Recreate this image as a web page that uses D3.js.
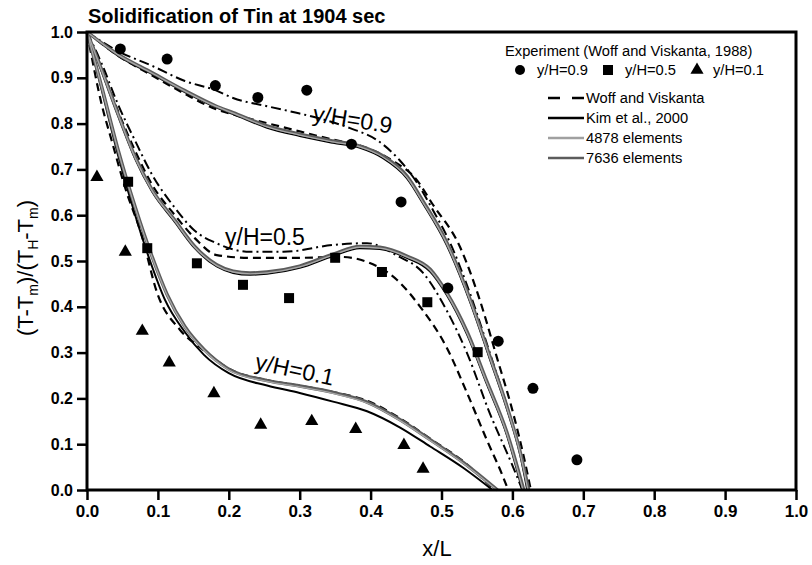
<!DOCTYPE html>
<html>
<head>
<meta charset="utf-8">
<title>Solidification of Tin at 1904 sec</title>
<style>
  body { margin: 0; background: #fff; }
  svg text { font-family: "Liberation Sans", Arial, sans-serif; fill: #000; }
  .narrow { font-family: "Liberation Sans Narrow", "Liberation Sans", Arial, sans-serif; }
</style>
</head>
<body>
<div id="chart"></div>
<script src="https://d3js.org/d3.v7.min.js"></script>
<script>
// ---- data ----
var xTicks = [0, 0.1, 0.2, 0.3, 0.4, 0.5, 0.6, 0.7, 0.8, 0.9, 1.0];
var yTicks = [0, 0.1, 0.2, 0.3, 0.4, 0.5, 0.6, 0.7, 0.8, 0.9, 1.0];

// experiment, Woff and Viskanta 1988
var exp09 = [[0.047,0.963],[0.113,0.941],[0.181,0.883],[0.241,0.857],[0.31,0.873],[0.373,0.755],
             [0.443,0.629],[0.509,0.441],[0.58,0.325],[0.629,0.222],[0.691,0.066]];
var exp05 = [[0.058,0.673],[0.085,0.528],[0.155,0.495],[0.22,0.448],[0.285,0.419],[0.35,0.507],
             [0.416,0.476],[0.48,0.41],[0.551,0.301]];
var exp01 = [[0.014,0.683],[0.054,0.52],[0.078,0.347],[0.116,0.278],[0.179,0.211],[0.245,0.142],
             [0.317,0.15],[0.379,0.133],[0.447,0.098],[0.474,0.046]];

// Woff and Viskanta (dashed)
var woff09 = [[0,1],[0.044,0.948],[0.092,0.905],[0.138,0.865],[0.181,0.832],[0.211,0.818],[0.254,0.801],
              [0.30,0.783],[0.347,0.765],[0.385,0.752],[0.43,0.72],[0.465,0.677],[0.487,0.625],[0.526,0.531],
              [0.554,0.415],[0.578,0.29],[0.601,0.168],[0.615,0.08],[0.626,0]];
var woff05 = [[0,1],[0.021,0.92],[0.044,0.826],[0.068,0.74],[0.092,0.666],[0.124,0.6],[0.152,0.55],
              [0.183,0.513],[0.23,0.507],[0.30,0.507],[0.357,0.509],[0.395,0.498],[0.437,0.459],[0.47,0.4],
              [0.507,0.312],[0.536,0.212],[0.564,0.109],[0.587,0.028],[0.594,0]];
var woff01 = [[0,1],[0.021,0.84],[0.035,0.762],[0.054,0.659],[0.077,0.557],[0.099,0.43],[0.131,0.35],
              [0.165,0.305],[0.2,0.265],[0.254,0.24],[0.30,0.228],[0.347,0.214],[0.395,0.195],[0.441,0.157],
              [0.484,0.112],[0.531,0.062],[0.575,0]];

// dash-dot curves (no legend entry in the figure)
var dd09 = [[0,1],[0.044,0.958],[0.092,0.926],[0.138,0.893],[0.181,0.873],[0.206,0.856],[0.254,0.838],
            [0.30,0.822],[0.34,0.806],[0.371,0.79],[0.409,0.764],[0.441,0.72],[0.465,0.672],[0.488,0.611],
            [0.512,0.54],[0.54,0.43],[0.568,0.30],[0.592,0.185],[0.611,0.085],[0.623,0]];
var dd05 = [[0,1],[0.021,0.93],[0.044,0.841],[0.068,0.762],[0.092,0.688],[0.124,0.616],[0.152,0.566],
            [0.181,0.54],[0.23,0.52],[0.277,0.52],[0.347,0.535],[0.395,0.539],[0.437,0.512],[0.474,0.474],
            [0.507,0.393],[0.536,0.299],[0.568,0.168],[0.601,0.05],[0.614,0]];

// Kim et al., 2000
var kim09 = [[0,1],[0.044,0.948],[0.092,0.908],[0.138,0.869],[0.181,0.836],[0.206,0.821],[0.254,0.791],
             [0.30,0.773],[0.347,0.758],[0.385,0.747],[0.417,0.725],[0.451,0.681],[0.475,0.623],[0.507,0.536],
             [0.54,0.412],[0.568,0.287],[0.592,0.178],[0.611,0.077],[0.621,0]];
var kim05 = [[0,1],[0.021,0.913],[0.044,0.817],[0.068,0.723],[0.092,0.651],[0.124,0.585],[0.152,0.528],
             [0.183,0.488],[0.206,0.474],[0.23,0.47],[0.254,0.472],[0.30,0.485],[0.347,0.511],[0.385,0.528],
             [0.413,0.526],[0.451,0.507],[0.484,0.477],[0.507,0.427],[0.536,0.34],[0.564,0.231],[0.592,0.121],[0.614,0]];
var kim01 = [[0,1],[0.021,0.872],[0.044,0.73],[0.068,0.6],[0.089,0.5],[0.11,0.415],[0.138,0.345],
             [0.165,0.295],[0.2,0.255],[0.254,0.228],[0.30,0.212],[0.347,0.193],[0.395,0.172],[0.441,0.137],
             [0.484,0.095],[0.531,0.048],[0.572,0]];

// 4878 elements
var m4878_09 = [[0,1],[0.044,0.95],[0.092,0.91],[0.138,0.871],[0.181,0.838],[0.206,0.823],[0.254,0.793],
                [0.30,0.775],[0.347,0.76],[0.385,0.749],[0.417,0.727],[0.451,0.683],[0.475,0.625],[0.507,0.539],
                [0.54,0.415],[0.568,0.29],[0.592,0.181],[0.611,0.08],[0.622,0]];
var m4878_05 = [[0,1],[0.021,0.915],[0.044,0.819],[0.068,0.725],[0.092,0.653],[0.124,0.587],[0.152,0.53],
                [0.183,0.49],[0.206,0.476],[0.23,0.472],[0.254,0.474],[0.30,0.487],[0.347,0.513],[0.385,0.53],
                [0.413,0.528],[0.451,0.509],[0.484,0.48],[0.507,0.43],[0.536,0.343],[0.564,0.234],[0.592,0.124],[0.615,0]];
var m4878_01 = [[0,1],[0.021,0.878],[0.044,0.74],[0.068,0.616],[0.092,0.507],[0.113,0.425],[0.138,0.355],
                [0.165,0.305],[0.2,0.262],[0.254,0.237],[0.30,0.225],[0.347,0.211],[0.395,0.19],[0.441,0.152],
                [0.484,0.108],[0.531,0.058],[0.578,0]];

// 7636 elements
var m7636_09 = [[0,1],[0.044,0.951],[0.092,0.911],[0.138,0.872],[0.181,0.839],[0.206,0.824],[0.254,0.795],
                [0.30,0.777],[0.347,0.762],[0.385,0.751],[0.417,0.73],[0.451,0.686],[0.475,0.628],[0.507,0.542],
                [0.54,0.418],[0.568,0.293],[0.592,0.184],[0.611,0.083],[0.623,0]];
var m7636_05 = [[0,1],[0.021,0.916],[0.044,0.82],[0.068,0.727],[0.092,0.655],[0.124,0.589],[0.152,0.532],
                [0.183,0.492],[0.206,0.478],[0.23,0.474],[0.254,0.476],[0.30,0.489],[0.347,0.515],[0.385,0.532],
                [0.413,0.53],[0.451,0.511],[0.484,0.482],[0.507,0.432],[0.536,0.346],[0.564,0.237],[0.592,0.127],[0.616,0]];
var m7636_01 = [[0,1],[0.021,0.879],[0.044,0.742],[0.068,0.618],[0.092,0.509],[0.113,0.427],[0.138,0.357],
                [0.165,0.307],[0.2,0.264],[0.254,0.239],[0.30,0.227],[0.347,0.213],[0.395,0.192],[0.441,0.154],
                [0.484,0.11],[0.531,0.06],[0.579,0]];

// ---- drawing ----
var w = 812, h = 565;
var x0 = 87, x1 = 796, yTop = 32, yBot = 490;

var svg = d3.select("#chart").append("svg")
  .attr("width", w).attr("height", h);

var x = d3.scaleLinear().domain([0, 1]).range([x0, x1]);
var y = d3.scaleLinear().domain([0, 1]).range([yBot, yTop]);

var line = d3.line()
  .x(function(d){ return x(d[0]); })
  .y(function(d){ return y(d[1]); })
  .curve(d3.curveMonotoneX);

function drawCurve(data, stroke, width, dash){
  svg.append("path")
    .datum(data)
    .attr("d", line)
    .attr("fill", "none")
    .attr("stroke", stroke)
    .attr("stroke-width", width)
    .attr("stroke-dasharray", dash || null)
    .attr("stroke-linejoin", "round");
}

var dashWoff = "8,5", dashDot = "10,4,2,4";

[woff09, woff05, woff01].forEach(function(c){ drawCurve(c, "#000", 2.2, dashWoff); });
[dd09, dd05].forEach(function(c){ drawCurve(c, "#000", 2, dashDot); });
[kim09, kim05, kim01].forEach(function(c){ drawCurve(c, "#000", 2); });
[m7636_09, m7636_05, m7636_01].forEach(function(c){ drawCurve(c, "#5c5c5c", 3.4); });
[m4878_09, m4878_05, m4878_01].forEach(function(c){ drawCurve(c, "#a8a8a8", 1.3); });

// markers
svg.append("g").selectAll("circle").data(exp09).join("circle")
  .attr("cx", function(d){ return x(d[0]); })
  .attr("cy", function(d){ return y(d[1]); })
  .attr("r", 5.5).attr("fill", "#000");

svg.append("g").selectAll("rect").data(exp05).join("rect")
  .attr("x", function(d){ return x(d[0]) - 5; })
  .attr("y", function(d){ return y(d[1]) - 5; })
  .attr("width", 10).attr("height", 10).attr("fill", "#000");

var tri = d3.symbol().type(d3.symbolTriangle).size(75);
svg.append("g").selectAll("path").data(exp01).join("path")
  .attr("d", tri)
  .attr("transform", function(d){ return "translate(" + x(d[0]) + "," + y(d[1]) + ")"; })
  .attr("fill", "#000");

// curve labels
svg.append("text").attr("transform", "translate(312,121) rotate(9)")
  .attr("font-size", 23).text("y/H=0.9");
svg.append("text").attr("x", 225).attr("y", 245)
  .attr("font-size", 23).text("y/H=0.5");
svg.append("text").attr("transform", "translate(254,369) rotate(12)")
  .attr("font-size", 23).text("y/H=0.1");

// axes
var xAxis = d3.axisBottom(x).tickValues(xTicks).tickSize(10).tickPadding(5)
  .tickFormat(d3.format(".1f"));
var gx = svg.append("g").attr("transform", "translate(0," + yBot + ")").call(xAxis);
gx.selectAll("line").attr("stroke-width", 2.5);
gx.select(".domain").remove();
gx.selectAll("text").attr("class", "narrow")
  .attr("font-size", 17).attr("font-weight", "bold");

var yAxis = d3.axisLeft(y).tickValues(yTicks).tickSize(10).tickPadding(4)
  .tickFormat(d3.format(".1f"));
var gy = svg.append("g").attr("transform", "translate(" + x0 + ",0)").call(yAxis);
gy.selectAll("line").attr("stroke-width", 2.5);
gy.select(".domain").remove();
gy.selectAll("text").attr("font-size", 16).attr("font-weight", "bold");

// frame
svg.append("rect")
  .attr("x", x0).attr("y", yTop)
  .attr("width", x1 - x0).attr("height", yBot - yTop)
  .attr("fill", "none").attr("stroke", "#000").attr("stroke-width", 3);

// title and axis titles
svg.append("text").attr("x", 88).attr("y", 23)
  .attr("font-size", 20).attr("font-weight", "bold")
  .text("Solidification of Tin at 1904 sec");

svg.append("text").attr("class", "narrow")
  .attr("x", 437).attr("y", 556).attr("text-anchor", "middle")
  .attr("font-size", 22).text("x/L");

var yl = svg.append("text")
  .attr("transform", "translate(33,268) rotate(-90)")
  .attr("text-anchor", "middle").attr("font-size", 22);
yl.append("tspan").text("(T-T");
yl.append("tspan").attr("font-size", 14).attr("dy", 5).text("m");
yl.append("tspan").attr("dy", -5).text(")/(T");
yl.append("tspan").attr("font-size", 14).attr("dy", 5).text("H");
yl.append("tspan").attr("dy", -5).text("-T");
yl.append("tspan").attr("font-size", 14).attr("dy", 5).text("m");
yl.append("tspan").attr("dy", -5).text(")");

// legend
var lg = svg.append("g");
var fs = 14.7;
lg.append("text").attr("x", 505).attr("y", 56).attr("font-size", fs)
  .text("Experiment (Woff and Viskanta, 1988)");
lg.append("circle").attr("cx", 520).attr("cy", 70).attr("r", 5).attr("fill", "#000");
lg.append("text").attr("x", 537).attr("y", 75).attr("font-size", fs).text("y/H=0.9");
lg.append("rect").attr("x", 603).attr("y", 65).attr("width", 10).attr("height", 10).attr("fill", "#000");
lg.append("text").attr("x", 625).attr("y", 75).attr("font-size", fs).text("y/H=0.5");
lg.append("path").attr("d", tri).attr("transform", "translate(697,70)").attr("fill", "#000");
lg.append("text").attr("x", 713).attr("y", 75).attr("font-size", fs).text("y/H=0.1");

var legendLines = [
  { label: "Woff and Viskanta", stroke: "#000", width: 2.5, dash: "12,12" },
  { label: "Kim et al., 2000", stroke: "#000", width: 2.5, dash: null },
  { label: "4878 elements", stroke: "#a0a0a0", width: 2.5, dash: null },
  { label: "7636 elements", stroke: "#5c5c5c", width: 2.5, dash: null }
];
legendLines.forEach(function(d, i){
  var yy = 98 + i * 20;
  lg.append("line").attr("x1", 548).attr("x2", 584).attr("y1", yy).attr("y2", yy)
    .attr("stroke", d.stroke).attr("stroke-width", d.width)
    .attr("stroke-dasharray", d.dash);
  lg.append("text").attr("x", 586).attr("y", yy + 5).attr("font-size", fs).text(d.label);
});
</script>
</body>
</html>
